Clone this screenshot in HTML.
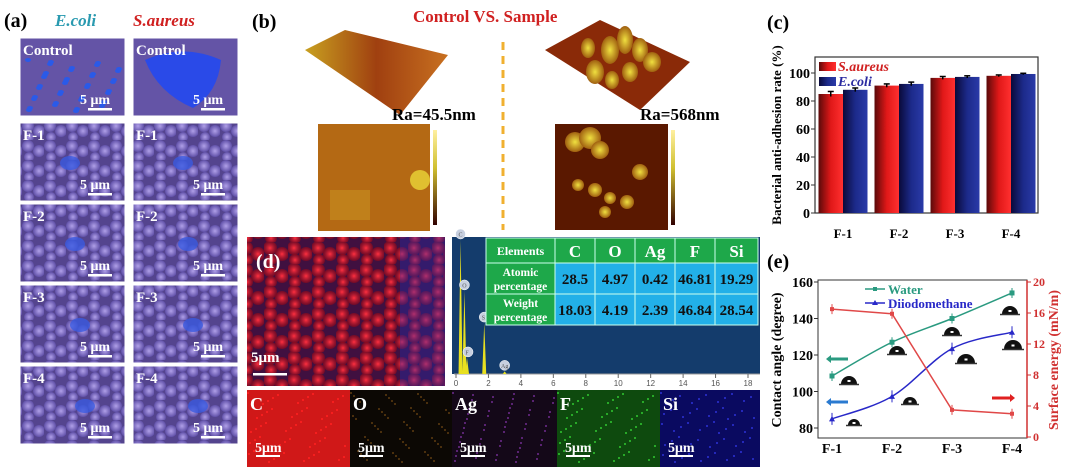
<!DOCTYPE html>
<html><head><meta charset="utf-8">
<style>
html,body{margin:0;padding:0;background:#fff;}
svg{display:block;font-family:"Liberation Serif",serif;}
</style></head>
<body>
<svg id="fig" width="1066" height="473" viewBox="0 0 1066 473" xmlns="http://www.w3.org/2000/svg">
<defs>
  <linearGradient id="gRed" x1="0" x2="1" y1="0" y2="0"><stop offset="0" stop-color="#5a0a0a"/><stop offset="0.5" stop-color="#e01818"/><stop offset="1" stop-color="#ff3030"/></linearGradient>
  <linearGradient id="gBlue" x1="0" x2="1" y1="0" y2="0"><stop offset="0" stop-color="#0a0a3a"/><stop offset="0.5" stop-color="#1c2a8a"/><stop offset="1" stop-color="#2a3aa8"/></linearGradient>
  <radialGradient id="gBall"><stop offset="0" stop-color="#b0a0e8"/><stop offset="1" stop-color="#6050a8"/></radialGradient>
  <radialGradient id="gRedBall"><stop offset="0" stop-color="#ff3040"/><stop offset="1" stop-color="#900818" stop-opacity="0.6"/></radialGradient>
  <radialGradient id="gAfm"><stop offset="0" stop-color="#f0e040"/><stop offset="1" stop-color="#a06010"/></radialGradient>
  <linearGradient id="gSurf1" x1="0" x2="1"><stop offset="0" stop-color="#c8a020"/><stop offset="0.5" stop-color="#a04010"/><stop offset="1" stop-color="#c87020"/></linearGradient>
  <linearGradient id="gCbar" x1="0" x2="0" y1="0" y2="1"><stop offset="0" stop-color="#fff0a0"/><stop offset="0.4" stop-color="#d0c030"/><stop offset="1" stop-color="#300000"/></linearGradient>
  <pattern id="pBalls" width="22" height="20" patternUnits="userSpaceOnUse">
    <rect width="22" height="20" fill="#54448e"/>
    <circle cx="6" cy="6" r="6" fill="url(#gBall)"/>
    <circle cx="17" cy="11" r="6" fill="url(#gBall)"/>
    <circle cx="7" cy="17" r="5" fill="url(#gBall)"/>
  </pattern>
  <pattern id="pRedBalls" width="24" height="22" patternUnits="userSpaceOnUse">
    <rect width="24" height="22" fill="#401040"/>
    <circle cx="6" cy="6" r="7" fill="url(#gRedBall)"/>
    <circle cx="18" cy="12" r="7" fill="url(#gRedBall)"/>
    <circle cx="7" cy="18" r="6" fill="url(#gRedBall)"/>
  </pattern>
</defs>

<g>
  <text x="4" y="27" font-size="20" font-weight="bold">(a)</text>
  <text x="55" y="26" font-size="17" font-weight="bold" font-style="italic" fill="#2a9ab0">E.coli</text>
  <text x="133" y="26" font-size="17" font-weight="bold" font-style="italic" fill="#d02020">S.aureus</text>
  <g id="semTiles"></g>
</g>

<g>
  <text x="252" y="28" font-size="20" font-weight="bold">(b)</text>
  <text x="413" y="22" font-size="17" font-weight="bold" fill="#d02020">Control  VS.  Sample</text>
  <polygon points="305,50 345,30 448,55 400,115" fill="url(#gSurf1)"/>
  <polygon points="545,50 600,20 690,62 640,110" fill="#8a2a08"/>
  <g fill="url(#gAfm)">
    <ellipse cx="595" cy="72" rx="9" ry="12"/><ellipse cx="610" cy="50" rx="9" ry="14"/><ellipse cx="625" cy="40" rx="8" ry="14"/>
    <ellipse cx="640" cy="50" rx="8" ry="12"/><ellipse cx="588" cy="48" rx="7" ry="10"/><ellipse cx="612" cy="80" rx="7" ry="9"/>
    <ellipse cx="630" cy="72" rx="8" ry="10"/><ellipse cx="652" cy="62" rx="9" ry="10"/>
  </g>
  <text x="392" y="120" font-size="17" font-weight="bold">Ra=45.5nm</text>
  <text x="640" y="120" font-size="17" font-weight="bold">Ra=568nm</text>
  <rect x="318" y="124" width="112" height="107" fill="#a85a10"/>
  <rect x="318" y="124" width="112" height="107" fill="#c07818" opacity="0.5"/>
  <rect x="330" y="190" width="40" height="30" fill="#c89020" opacity="0.6"/>
  <circle cx="420" cy="180" r="10" fill="#e0c030"/>
  <rect x="433" y="130" width="4" height="95" fill="url(#gCbar)"/>
  <rect x="555" y="124" width="113" height="106" fill="#5a1800"/>
  <g fill="url(#gAfm)">
    <circle cx="575" cy="142" r="10"/><circle cx="590" cy="138" r="11"/><circle cx="600" cy="150" r="9"/>
    <circle cx="640" cy="172" r="8"/><circle cx="578" cy="185" r="6"/><circle cx="595" cy="190" r="7"/>
    <circle cx="610" cy="198" r="6"/><circle cx="627" cy="202" r="7"/><circle cx="605" cy="212" r="6"/>
  </g>
  <rect x="671" y="130" width="4" height="95" fill="url(#gCbar)"/>
  <line x1="503" y1="42" x2="503" y2="230" stroke="#f0b030" stroke-width="3" stroke-dasharray="8,6"/>
</g>

<g>
  <rect x="247" y="237" width="198" height="149" fill="url(#pRedBalls)"/>
  <rect x="400" y="237" width="45" height="149" fill="#2030c0" opacity="0.35"/>
  <text x="256" y="268" font-size="20" font-weight="bold" fill="#fff">(d)</text>
  <text x="251" y="362" font-size="15" font-weight="bold" fill="#fff">5μm</text>
  <rect x="253" y="373" width="34" height="2.5" fill="#fff"/>
  <g id="eds"></g>
  <g id="edsTable"></g>
  <g id="maps"></g>
</g>

<g id="panelC">
  <text x="767" y="29" font-size="20" font-weight="bold">(c)</text>
</g>

<g id="panelE">
  <text x="767" y="268" font-size="20" font-weight="bold">(e)</text>
</g>
</svg>

<script>
const barCategories = ["F-1","F-2","F-3","F-4"];
const saureusValues = [85, 91, 96.5, 98];
const ecoliValues = [88, 92.2, 97.2, 99.3];
const saureusErr = [1.8, 1.2, 1.0, 0.6];
const ecoliErr = [1.3, 1.3, 0.8, 0.5];
const barYTicks = [0, 20, 40, 60, 80, 100];

const angleCategories = ["F-1","F-2","F-3","F-4"];
const waterAngles = [108.5, 127, 140, 154];
const diiodoAngles = [85, 97.3, 123.5, 132.5];
const surfaceEnergy = [16.5, 15.9, 3.5, 3.0];
const angleYTicks = [80, 100, 120, 140, 160];
const energyYTicks = [0, 4, 8, 12, 16, 20];

const edsHeaders = ["Elements","C","O","Ag","F","Si"];
const atomicPct = ["28.5","4.97","0.42","46.81","19.29"];
const weightPct = ["18.03","4.19","2.39","46.84","28.54"];
const edsPeakEnergy = [0.28, 0.52, 0.68, 1.74, 3.0];
const edsPeakHeight = [100, 62, 12, 38, 2];
const edsPeakLabels = ["C","O","F","Si","Ag"];
const edsXTicks = [0,2,4,6,8,10,12,14,16,18];

const NS = "http://www.w3.org/2000/svg";
function mk(tag, attrs, parent, text) {
  const e = document.createElementNS(NS, tag);
  for (const k in attrs) e.setAttribute(k, attrs[k]);
  if (text !== undefined) e.textContent = text;
  parent.appendChild(e);
  return e;
}

(function(){
  const g = document.getElementById('semTiles');
  const labels = ["Control","F-1","F-2","F-3","F-4"];
  const cols = [20, 133];
  const tops = [38, 123, 204, 285, 366];
  const h = 78;
  cols.forEach((cx, ci) => {
    tops.forEach((ty, ri) => {
      const r = mk('rect', {x:cx, y:ty, width:105, height:h, fill: ri===0 ? '#6454a6' : 'url(#pBalls)', stroke:'#fff', 'stroke-width':1}, g);
      
      
      if (ri === 0 && ci === 0) {
        for (let i = 0; i < 40; i++) mk('ellipse', {cx: cx+8+(i*37)%95, cy: ty+22+(i*23)%52, rx:3, ry:2, fill:'#2a5ae8'}, g);
      }
      if (ri === 0 && ci === 1) {
        mk('path', {d:`M${cx+12},${ty+22} Q${cx+50},${ty+5} ${cx+88},${ty+22} Q${cx+85},${ty+55} ${cx+60},${ty+70} Q${cx+25},${ty+55} ${cx+12},${ty+22}Z`, fill:'#2a4ae8'}, g);
      }
      if (ri > 0) {
        mk('ellipse', {cx: cx+45+ri*5, cy: ty+40, rx:10, ry:7, fill:'#3a5ae0', opacity:0.8}, g);
      }
      const t = mk('text', {x:cx+3, y:ty+17, 'font-size':15, 'font-weight':'bold', fill:'#fff'}, g, labels[ri]);
      
      
      mk('text', {x:cx+60, y:ty+h-12, 'font-size':14, 'font-weight':'bold', fill:'#fff'}, g, '5 μm');
      mk('rect', {x:cx+68, y:ty+h-8, width:24, height:2.5, fill:'#fff'}, g);
    });
  });
})();

(function(){
  const g = document.getElementById('eds');
  const x0 = 452, x1 = 760, yTop = 237, yAxis = 374;
  mk('rect', {x:x0, y:yTop, width:x1-x0, height:153, fill:'#143c6c'}, g);
  mk('rect', {x:x0, y:yAxis, width:x1-x0, height:16, fill:'#fff'}, g);
  const sx = v => 456 + v * (748-456)/18;
  const sy = v => yAxis - v * (yAxis-240)/100;
  mk('line', {x1:x0+2, y1:yAxis, x2:x1, y2:yAxis, stroke:'#999', 'stroke-width':1}, g);
  edsXTicks.forEach(t => {
    mk('line', {x1:sx(t), y1:yAxis, x2:sx(t), y2:yAxis+4, stroke:'#666'}, g);
    mk('text', {x:sx(t), y:yAxis+12, 'font-size':8, 'text-anchor':'middle', fill:'#555', 'font-family':'Liberation Sans'}, g, String(t));
  });
  edsPeakEnergy.forEach((e, i) => {
    const p = mk('path', {d:`M${sx(e)-2},${yAxis} L${sx(e)},${sy(edsPeakHeight[i])} L${sx(e)+2},${yAxis}Z`, fill:'#e8e020'}, g);
    
    
    mk('circle', {cx:sx(e)+ (i===2?1:0), cy:sy(edsPeakHeight[i])-6, r:5, fill:'#c8d0e0', stroke:'#fff', 'stroke-width':0.5}, g);
    mk('text', {x:sx(e), y:sy(edsPeakHeight[i])-3.5, 'font-size':6, 'text-anchor':'middle', fill:'#555'}, g, edsPeakLabels[i]);
  });
  const tg = document.getElementById('edsTable');
  const colX = [486, 555, 595, 635, 675, 715, 758];
  const rowY = [238, 263, 294, 325];
  const rowLabels = [["Atomic","percentage"],["Weight","percentage"]];
  const data = [atomicPct, weightPct];
  for (let c = 0; c < 6; c++) {
    mk('rect', {x:colX[c], y:rowY[0], width:colX[c+1]-colX[c], height:rowY[1]-rowY[0], fill:'#1ea84a', stroke:'#cfe', 'stroke-width':1}, tg);
    const t = mk('text', {x:(colX[c]+colX[c+1])/2, y:rowY[0]+(c===0?17:19), 'font-size':c===0?12:17, 'font-weight':'bold', 'text-anchor':'middle', fill:'#fff'}, tg, edsHeaders[c]);
    
    
  }
  for (let r = 0; r < 2; r++) {
    const y = rowY[r+1], hh = rowY[r+2]-rowY[r+1];
    mk('rect', {x:colX[0], y:y, width:colX[1]-colX[0], height:hh, fill:'#1ea84a', stroke:'#cfe'}, tg);
    mk('text', {x:(colX[0]+colX[1])/2, y:y+13, 'font-size':11.5, 'font-weight':'bold', 'text-anchor':'middle', fill:'#fff'}, tg, rowLabels[r][0]);
    mk('text', {x:(colX[0]+colX[1])/2, y:y+27, 'font-size':11.5, 'font-weight':'bold', 'text-anchor':'middle', fill:'#fff'}, tg, rowLabels[r][1]);
    for (let c = 1; c < 6; c++) {
      mk('rect', {x:colX[c], y:y, width:colX[c+1]-colX[c], height:hh, fill:'#22b0e8', stroke:'#cfe'}, tg);
      const t = mk('text', {x:(colX[c]+colX[c+1])/2, y:y+21, 'font-size':15, 'font-weight':'bold', 'text-anchor':'middle', fill:'#111'}, tg, data[r][c-1]);
      
      
    }
  }
  const mg = document.getElementById('maps');
  const maps = [["C",247,350,"#d01818","#ff2020"],["O",350,452,"#0c0804","#5a3a10"],["Ag",452,557,"#140818","#6a2a8a"],["F",557,660,"#0e4a0e","#30c030"],["Si",660,760,"#0a0a60","#2a30d0"]];
  maps.forEach(m => {
    const r = mk('rect', {x:m[1], y:390, width:m[2]-m[1], height:77, fill:m[3]}, mg);
    
    
    for (let i = 0; i < 60; i++) mk('rect', {x:m[1]+(i*53)%(m[2]-m[1]-3), y:392+(i*29)%72, width:2, height:2, fill:m[4], opacity:0.8}, mg);
    mk('text', {x:m[1]+3, y:410, 'font-size':18, 'font-weight':'bold', fill:'#fff'}, mg, m[0]);
    mk('text', {x:m[1]+8, y:452, 'font-size':14, 'font-weight':'bold', fill:'#fff'}, mg, '5μm');
    mk('rect', {x:m[1]+9, y:455, width:24, height:2, fill:'#fff'}, mg);
  });
})();

(function(){
  const g = document.getElementById('panelC');
  const L = 815, R = 1038, T = 57, B = 213;
  const sy = v => B - v * (B-73)/100;
  const centers = [843, 899, 955, 1011];
  const bw = 24.5;
  mk('rect', {x:L, y:T, width:R-L, height:B-T, fill:'none', stroke:'#333', 'stroke-width':1.2}, g);
  barYTicks.forEach(t => {
    mk('line', {x1:L-4, y1:sy(t), x2:L, y2:sy(t), stroke:'#333'}, g);
    const tx = mk('text', {x:L-5, y:sy(t)+5, 'font-size':14, 'font-weight':'bold', 'text-anchor':'end'}, g, String(t));
    
    
  });
  barCategories.forEach((c, i) => {
    const cx = centers[i];
    const b1 = mk('rect', {x:cx-bw, y:sy(saureusValues[i]), width:bw, height:B-sy(saureusValues[i]), fill:'url(#gRed)'}, g);
    
    
    const b2 = mk('rect', {x:cx, y:sy(ecoliValues[i]), width:bw, height:B-sy(ecoliValues[i]), fill:'url(#gBlue)'}, g);
    
    
    [[cx-bw/2, saureusValues[i], saureusErr[i]], [cx+bw/2, ecoliValues[i], ecoliErr[i]]].forEach(e => {
      mk('line', {x1:e[0], y1:sy(e[1]+e[2]), x2:e[0], y2:sy(e[1]-e[2]), stroke:'#000', 'stroke-width':1.5}, g);
      mk('line', {x1:e[0]-3, y1:sy(e[1]+e[2]), x2:e[0]+3, y2:sy(e[1]+e[2]), stroke:'#000', 'stroke-width':1.5}, g);
    });
    const xl = mk('text', {x:cx, y:238, 'font-size':13, 'font-weight':'bold', 'text-anchor':'middle'}, g, c);
    
    
  });
  const yt = mk('text', {x:0, y:0, 'font-size':13, 'font-weight':'bold', 'text-anchor':'middle', transform:`translate(781,135) rotate(-90)`}, g, 'Bacterial anti-adhesion rate (%)');
  
  
  mk('rect', {x:819, y:62, width:17, height:9, fill:'url(#gRed)'}, g);
  mk('text', {x:838, y:71, 'font-size':14, 'font-weight':'bold', 'font-style':'italic', fill:'#d02020'}, g, 'S.aureus');
  mk('rect', {x:819, y:77, width:17, height:9, fill:'url(#gBlue)'}, g);
  mk('text', {x:838, y:86, 'font-size':14, 'font-weight':'bold', 'font-style':'italic', fill:'#2a2aa0'}, g, 'E.coli');
})();

(function(){
  const g = document.getElementById('panelE');
  const L = 818, R = 1027, T = 280, B = 438;
  const sy = v => 428 - (v-80) * (428-282)/80;
  const sy2 = v => 437 - v * (437-282)/20;
  const xs = [832, 892, 952, 1012];
  mk('rect', {x:L, y:T, width:R-L, height:B-T, fill:'none', stroke:'#333', 'stroke-width':1}, g);
  mk('line', {x1:R, y1:T, x2:R, y2:B, stroke:'#d03030', 'stroke-width':1.5}, g);
  angleYTicks.forEach(t => {
    mk('line', {x1:L-4, y1:sy(t), x2:L, y2:sy(t), stroke:'#333'}, g);
    mk('text', {x:L-5, y:sy(t)+5, 'font-size':14, 'font-weight':'bold', 'text-anchor':'end'}, g, String(t));
  });
  energyYTicks.forEach(t => {
    mk('line', {x1:R, y1:sy2(t), x2:R+4, y2:sy2(t), stroke:'#d03030'}, g);
    mk('text', {x:R+6, y:sy2(t)+4, 'font-size':12, 'font-weight':'bold', fill:'#d03030'}, g, String(t));
  });
  angleCategories.forEach((c, i) => {
    mk('text', {x:xs[i], y:453, 'font-size':14, 'font-weight':'bold', 'text-anchor':'middle'}, g, c);
  });
  function smooth(vals, f) {
    const p = vals.map((v, i) => [xs[i], f(v)]);
    let d = `M${p[0][0]},${p[0][1]}`;
    for (let i = 0; i < p.length-1; i++) {
      const p0 = p[Math.max(0,i-1)], p1 = p[i], p2 = p[i+1], p3 = p[Math.min(p.length-1,i+2)];
      d += ` C${p1[0]+(p2[0]-p0[0])/6},${p1[1]+(p2[1]-p0[1])/6} ${p2[0]-(p3[0]-p1[0])/6},${p2[1]-(p3[1]-p1[1])/6} ${p2[0]},${p2[1]}`;
    }
    return d;
  }
  const wl = mk('path', {d:smooth(waterAngles, sy), fill:'none', stroke:'#2a9a80', 'stroke-width':1.5}, g);
  
  
  const dl = mk('path', {d:smooth(diiodoAngles, sy), fill:'none', stroke:'#2828c8', 'stroke-width':1.5}, g);
  
  
  const el = mk('polyline', {points:surfaceEnergy.map((v,i)=>`${xs[i]},${sy2(v)}`).join(' '), fill:'none', stroke:'#e04848', 'stroke-width':1.5}, g);
  
  
  xs.forEach((x, i) => {
    const a = mk('rect', {x:x-2.5, y:sy(waterAngles[i])-2.5, width:5, height:5, fill:'#2a9a80'}, g);
    
    
    mk('line', {x1:x, y1:sy(waterAngles[i])-5, x2:x, y2:sy(waterAngles[i])+5, stroke:'#2a9a80'}, g);
    const b = mk('path', {d:`M${x-3},${sy(diiodoAngles[i])+2.5} L${x},${sy(diiodoAngles[i])-3} L${x+3},${sy(diiodoAngles[i])+2.5}Z`, fill:'#2828c8'}, g);
    
    
    mk('line', {x1:x, y1:sy(diiodoAngles[i])-6, x2:x, y2:sy(diiodoAngles[i])+6, stroke:'#2828c8'}, g);
    const c = mk('rect', {x:x-2, y:sy2(surfaceEnergy[i])-2, width:4, height:4, fill:'#e04848'}, g);
    
    
    mk('line', {x1:x, y1:sy2(surfaceEnergy[i])-5, x2:x, y2:sy2(surfaceEnergy[i])+5, stroke:'#e04848'}, g);
  });
  mk('line', {x1:865, y1:289, x2:885, y2:289, stroke:'#2a9a80', 'stroke-width':1.5}, g);
  mk('rect', {x:873, y:287, width:4, height:4, fill:'#2a9a80'}, g);
  mk('text', {x:888, y:294, 'font-size':13, 'font-weight':'bold', fill:'#2a9a80'}, g, 'Water');
  mk('line', {x1:865, y1:303, x2:885, y2:303, stroke:'#2828c8', 'stroke-width':1.5}, g);
  mk('path', {d:'M872,305 L875,300 L878,305Z', fill:'#2828c8'}, g);
  mk('text', {x:888, y:308, 'font-size':13, 'font-weight':'bold', fill:'#2828c8'}, g, 'Diiodomethane');
  function arrow(x1, x2, y, col) {
    mk('line', {x1:x1, y1:y, x2:x2, y2:y, stroke:col, 'stroke-width':3}, g);
    const dir = x2 > x1 ? 1 : -1;
    mk('path', {d:`M${x2+dir*5},${y} L${x2},${y-4} L${x2},${y+4}Z`, fill:col}, g);
  }
  arrow(848, 831, 359, '#2a9a80');
  arrow(848, 831, 402, '#2a7ad0');
  arrow(992, 1010, 398, '#e02020');
  [[849,384,8],[854,425,6],[897,354,8],[910,404,7],[952,335,8],[966,363,9],[1010,314,8],[1013,349,9]].forEach(d => {
    mk('path', {d:`M${d[0]-d[2]},${d[1]} A${d[2]},${d[2]} 0 1 1 ${d[0]+d[2]},${d[1]}Z`, fill:'#111'}, g);
    mk('line', {x1:d[0]-d[2]-2, y1:d[1]+0.5, x2:d[0]+d[2]+2, y2:d[1]+0.5, stroke:'#333', 'stroke-width':1.5}, g);
    mk('rect', {x:d[0]-1.5, y:d[1]-d[2]/2, width:3, height:2, fill:'#fff'}, g);
  });
  const yt = mk('text', {x:0, y:0, 'font-size':14, 'font-weight':'bold', 'text-anchor':'middle', transform:'translate(781,360) rotate(-90)'}, g, 'Contact angle (degree)');
  
  
  const yt2 = mk('text', {x:0, y:0, 'font-size':14, 'font-weight':'bold', fill:'#d03030', 'text-anchor':'middle', transform:'translate(1058,360) rotate(-90)'}, g, 'Surface energy (mN/m)');
  
  
})();
</script>
</body></html>
